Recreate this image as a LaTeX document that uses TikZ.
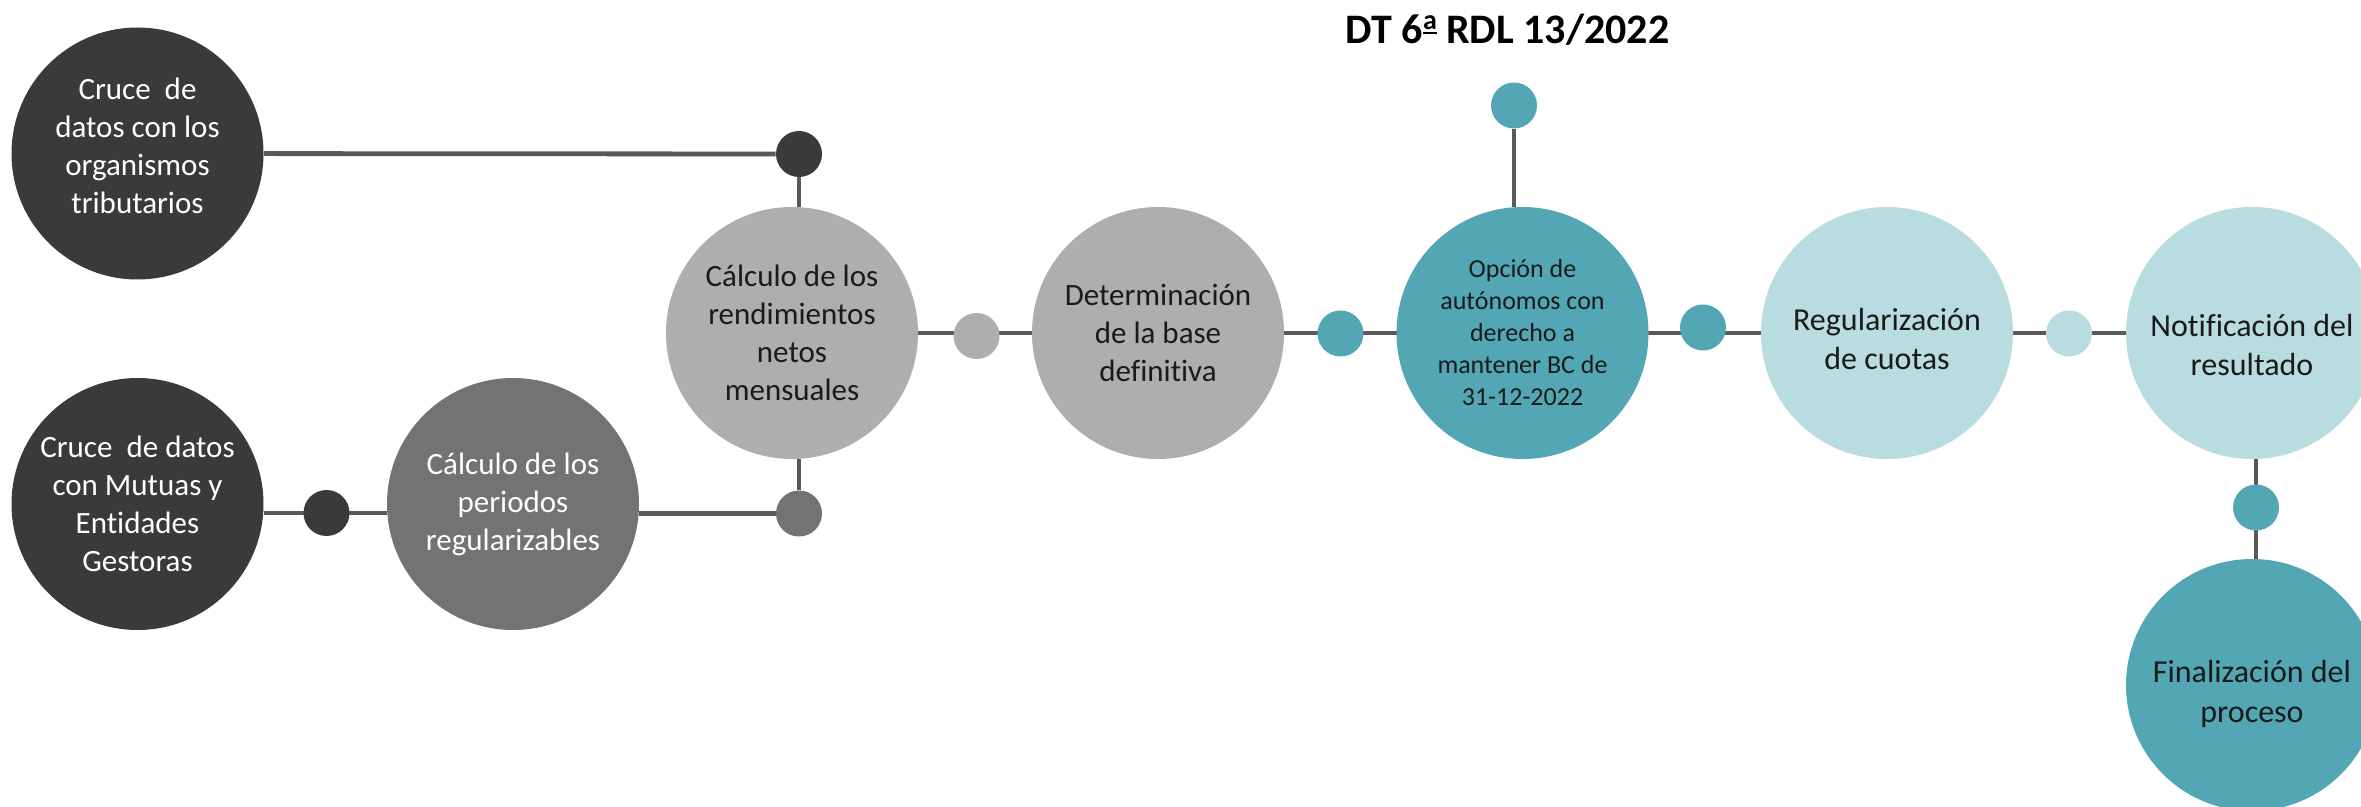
\documentclass[tikz,border=0pt]{standalone}
\usepackage{fontspec}
\setmainfont{Carlito}[Ligatures=NoCommon]
\usetikzlibrary{backgrounds}
\definecolor{cdark}{HTML}{3A3A3A}
\definecolor{cgray}{HTML}{737373}
\definecolor{clgray}{HTML}{AEAEAE}
\definecolor{cteal}{HTML}{53A7B4}
\definecolor{cltteal}{HTML}{B9DCE0}
\definecolor{cline}{HTML}{595959}
\definecolor{ctext}{HTML}{1A1A1A}
\newcommand\ordfem{\leavevmode\setbox0\hbox{\fontsize{14}{14}\selectfont\bfseries a}%
  \raisebox{4.6pt}{\rule{\wd0}{1.1pt}}\kern-\wd0\raisebox{7.3pt}{\box0}}
\begin{document}
\begin{tikzpicture}[x=0.5pt,y=-0.5pt,
  circ/.style={circle, minimum size=126pt, inner sep=0pt},
  lbl/.style={align=center, inner sep=0pt, font=\fontsize{15.5}{19}\selectfont, text=ctext},
  lblw/.style={lbl, text=white},
  lblbig/.style={lbl, font=\fontsize{16}{19.5}\selectfont},
  dot/.style={circle, minimum size=23pt, inner sep=0pt},
  conn/.style={draw=cline, line width=2.4pt}]
\path[use as bounding box, clip] (0,0) rectangle (2361,807);
% big circles
\node[circ, fill=cdark, label={[lblw, yshift=4pt]center:{Cruce\ \ de\\datos con los\\organismos\\tributarios}}] (A) at (137.5,153.5) {};
\node[circ, fill=cdark, label={[lblw]center:{Cruce\ \ de datos\\con Mutuas y\\Entidades\\Gestoras}}] (B) at (137.5,504) {};
\node[circ, fill=cgray, label={[lblw]center:{Cálculo de los\\periodos\\regularizables}}] (D) at (513,504) {};
\node[circ, fill=clgray, label={[lbl]center:{Cálculo de los\\rendimientos\\netos\\mensuales}}] (C) at (792,333) {};
\node[circ, fill=clgray, label={[lbl]center:{Determinación\\de la base\\definitiva}}] (E) at (1158,333) {};
\node[circ, fill=cteal, label={[lbl, font=\fontsize{13}{16}\selectfont]center:{Opción de\\autónomos con\\derecho a\\mantener BC de\\31-12-2022}}] (F) at (1522.5,333) {};
\node[circ, fill=cltteal, label={[lblbig, yshift=-3pt]center:{Regularización\\de cuotas}}] (G) at (1887,333) {};
\node[circ, fill=cltteal, label={[lblbig, yshift=-6pt]center:{Notificación del\\resultado}}] (H) at (2252,333) {};
\node[circ, fill=cteal, label={[lblbig, font=\fontsize{16}{20}\selectfont, yshift=-4.5pt]center:{Finalización del\\proceso}}] (I) at (2252,685) {};
% small dots
\node[dot, fill=cdark] (d1) at (799,154) {};
\node[dot, fill=cgray] (d3) at (799,513.5) {};
\node[dot, fill=cdark] (d2) at (326.5,513) {};
\node[dot, fill=clgray] (g1) at (976.5,336) {};
\node[dot, fill=cteal] (t1) at (1340.5,333.5) {};
\node[dot, fill=cteal] (t0) at (1514,105.5) {};
\node[dot, fill=cteal] (t2) at (1703,327.5) {};
\node[dot, fill=cltteal] (l1) at (2069,333.5) {};
\node[dot, fill=cteal] (t3) at (2256,507.5) {};
% title
\node[anchor=base, inner sep=0pt, font=\fontsize{21}{25}\selectfont\bfseries] (title) at (1507.5,43.7) {DT 6\ordfem\ RDL 13/2022};
% connectors
\begin{pgfonlayer}{background}
\draw[conn] (A) -- (d1);
\draw[conn] (d1) -- (d1 |- C.north);
\draw[conn] (d3) -- (d3 |- C.south);
\draw[conn] (d2 -| B.east) -- (d2 -| D.west);
\draw[conn] (d3 -| D.east) -- (d3);
\draw[conn] (C) -- (H);
\draw[conn] (t0) -- (t0 |- F.north);
\draw[conn] (t3 |- H.south) -- (t3 |- I.north);
\end{pgfonlayer}
\end{tikzpicture}
\end{document}
